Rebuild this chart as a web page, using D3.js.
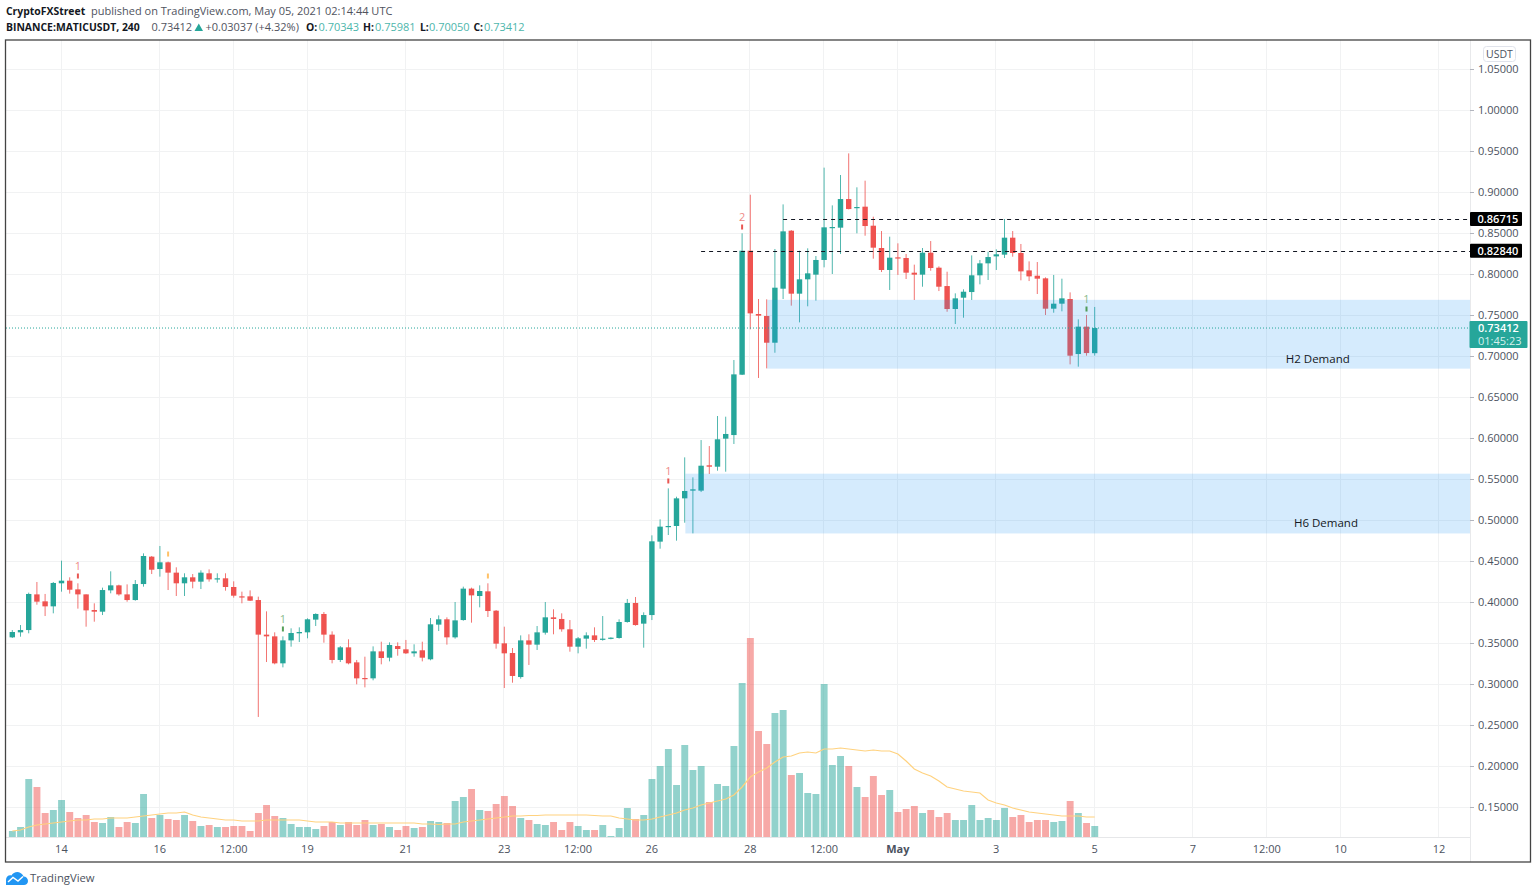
<!DOCTYPE html>
<html><head><meta charset="utf-8">
<script src="https://cdn.jsdelivr.net/npm/d3@7/dist/d3.min.js"></script>
<style>
html,body{margin:0;padding:0;background:#fff;overflow:hidden}
svg{display:block}
text{font-family:"Open Sans","Noto Sans",sans-serif}
</style></head><body>
<svg id="c" width="1536" height="895"></svg>
<script>
const opens=[.3569,.3630,.3658,.4093,.4008,.3947,.4228,.4260,.4154,.4093,.3902,.3882,.4142,.4203,.4093,.4024,.4219,.4553,.4402,.4484,.4358,.4228,.4301,.4248,.4350,.4280,.4289,.4183,.4069,.4069,.4024,.3602,.3581,.3252,.3532,.3618,.3630,.3785,.3854,.3602,.3293,.3447,.3264,.3073,.3069,.3398,.3321,.3463,.3423,.3374,.3411,.3301,.3724,.3789,.3569,.3780,.4163,.4073,.4130,.3894,.3496,.3378,.3085,.3532,.3480,.3626,.3813,.3793,.3667,.3455,.3553,.3593,.3541,.3553,.3561,.3756,.3988,.3736,.3841,.4736,.4919,.4927,.5264,.5358,.5358,.5667,.5650,.5992,.6036,.6772,.8284,.7512,.7488,.7162,.7821,.8528,.7760,.7935,.7992,.8171,.8565,.8565,.8914,.8809,.8821,.8589,.8317,.8049,.8203,.8195,.8016,.7992,.8260,.8077,.7853,.7573,.7711,.7780,.7984,.8130,.8215,.8236,.8443,.8256,.8044,.7979,.7947,.7577,.7638,.7695,.7024,.7358,.70343];
const highs=[.3658,.3719,.4114,.4244,.4098,.4244,.4504,.4301,.4228,.4093,.3984,.4175,.4374,.4211,.4215,.4268,.4593,.4561,.4683,.4492,.4423,.4350,.4341,.4386,.4398,.4350,.4350,.4252,.4126,.4142,.4065,.3886,.3630,.3581,.3679,.3691,.3801,.3862,.3878,.3642,.3463,.3545,.3293,.3333,.3459,.3516,.3508,.3508,.3537,.3484,.3516,.3805,.3837,.3813,.4000,.4187,.4175,.4203,.4228,.3902,.3699,.3439,.3593,.3606,.3707,.4000,.3911,.3862,.3780,.3573,.3630,.3691,.3829,.3569,.3789,.4037,.4061,.3874,.4813,.5008,.5386,.5284,.5764,.5520,.5975,.5902,.6268,.6260,.6951,.8496,.8967,.7695,.7691,.8305,.8849,.8536,.8284,.8313,.8219,.9297,.8837,.9207,.9471,.9057,.9138,.8699,.8524,.8455,.8374,.8244,.8114,.8317,.8402,.8093,.8028,.7764,.7813,.8227,.8171,.8272,.8301,.8671,.8524,.8366,.8154,.8146,.7959,.7988,.7943,.7776,.7447,.7500,.75981];
const lows=[.3561,.3577,.3618,.3967,.3829,.3862,.4126,.4102,.3919,.3699,.3760,.3841,.4106,.4077,.4004,.4016,.4187,.4341,.4309,.4146,.4073,.4073,.4167,.4158,.4248,.4236,.4138,.4053,.3984,.4012,.2598,.3268,.3240,.3203,.3455,.3512,.3557,.3707,.3504,.3252,.3268,.3240,.2996,.2959,.3045,.3240,.3276,.3345,.3366,.3333,.3276,.3289,.3646,.3480,.3553,.3772,.3748,.3935,.3817,.3431,.2951,.3016,.3065,.3232,.3415,.3602,.3606,.3638,.3394,.3374,.3431,.3512,.3529,.3545,.3553,.3748,.3711,.3443,.3780,.4650,.4817,.4748,.4967,.4837,.5341,.5561,.5601,.5589,.5927,.6768,.7325,.6732,.6849,.7040,.7695,.7614,.7410,.7606,.7675,.8081,.8000,.8244,.8788,.8496,.8467,.8187,.8024,.7805,.7988,.7939,.7683,.7845,.8040,.7792,.7540,.7390,.7467,.7683,.7874,.7927,.8049,.8195,.8211,.7923,.7914,.7756,.7500,.7528,.7545,.6898,.6870,.7004,.70050];
const closes=[.3634,.3658,.4098,.4004,.3947,.4232,.4260,.4150,.4093,.3898,.3882,.4146,.4203,.4093,.4024,.4219,.4561,.4394,.4484,.4358,.4228,.4301,.4248,.4358,.4276,.4289,.4183,.4077,.4061,.4016,.3602,.3581,.3252,.3532,.3622,.3634,.3789,.3854,.3602,.3293,.3447,.3252,.3069,.3065,.3398,.3317,.3476,.3427,.3374,.3398,.3321,.3728,.3789,.3569,.3776,.4163,.4081,.4134,.3890,.3492,.3374,.3098,.3532,.3480,.3630,.3813,.3793,.3667,.3455,.3557,.3593,.3537,.3553,.3565,.3756,.3988,.3719,.3841,.4740,.4919,.4927,.5264,.5354,.5374,.5662,.5650,.5984,.6049,.6776,.8284,.7520,.7492,.7162,.7833,.8520,.7760,.7935,.8008,.8171,.8569,.8573,.8914,.8792,.8817,.8585,.8321,.8049,.8199,.8195,.8016,.7992,.8260,.8073,.7845,.7573,.7703,.7784,.7984,.8130,.8207,.8240,.8443,.8256,.8032,.7971,.7943,.7577,.7638,.7703,.7004,.7358,.7036,.73412];
const volumes=[6,10,58,50,24,27,37,25,19,22,15,14,20,10,15,14,43,19,22,18,17,22,16,11,12,10,10,11,11,6,24,32,21,19,13,10,10,8,11,15,12,15,12,17,12,13,10,7,11,9,10,16,15,14,36,40,48,27,26,33,41,31,19,17,13,12,15,7,15,11,7,7,12,1,9,29,18,22,58,71,88,52,92,67,71,35,53,51,91,154,199,106,93,124,127,62,64,44,43,153,72,81,71,50,40,61,42,47,25,28,31,24,27,20,24,17,17,32,17,19,17,29,20,22,15,17,17,15,16,36,24,14,11];
const volumeMA=[6,7,10,12,13,14,15,16,17,17,18,18,19,19,19,20,21,22,23,24,24,25,22,20,19,18,17,17,16,16,16,17,17,17,17,17,16,15,15,15,14,14,14,14,14,14,14,14,14,14,13,13,12.5,13,13,15,16,17,18,19,20,21,21,21.5,21.5,22,22,22,22,22,22,21.5,21,21,19,18,17,17,18,20,22,24,27,29,32,34,36,38,42,50,60,65,69,75,80,81,84,85,84,88,88,89,88,87,86,87,86,86,83,76,68,64,61,56,50,48,46,45,44,37,34,32,29,27,25,24,23,22,21,21,21,20,20];
const priceTicks=[1.05,1,.95,.9,.85,.8,.75,.7,.65,.6,.55,.5,.45,.4,.35,.3,.25,.2,.15];
const timeTickIdx=[6,18,27,36,48,60,69,78,90,99,108,120,132,144,153,162,174];
const timeTickLab=["14","16","12:00","19","21","23","12:00","26","28","12:00","May","3","5","7","12:00","10","12"];
const signalIdx=[8,19,33,58,80,89,131];
const signalPrice=[.4317,.4585,.3671,.4317,.5476,.8573,.7573];
const signalText=["1","","1","","1","2","1"];
const signalColor=["#e53935","#ffa726","#388e3c","#ffa726","#e53935","#e53935","#388e3c"];
const levels=[.86715,.82840];
const levelFromIdx=[94,84];
const zones=[{top:.7685,bottom:.6846,fromIdx:92,label:"H2 Demand",labelIdx:159.2},{top:.5565,bottom:.4836,fromIdx:82,label:"H6 Demand",labelIdx:160.2}];
const lastPrice=.73412;

const up="#26a69a",dn="#ef5350";
const L=6,R=1470,T=40,B=838;
const svg=d3.select("#c");
const y=d3.scaleLinear().domain([.15,1.05]).range([807,69]);
const x=d3.scaleLinear().domain([0,132]).range([12.3,1094.7]);
const yv=d3.scaleLinear().domain([0,199]).range([837,638]);
const idx=d3.range(opens.length);

// grid
const g=svg.append("g").attr("stroke","#f1f2f3").attr("stroke-width",1);
g.selectAll(".h").data(priceTicks).join("line").attr("x1",L).attr("x2",R).attr("y1",d=>Math.round(y(d))+.5).attr("y2",d=>Math.round(y(d))+.5);
g.selectAll(".v").data(timeTickIdx).join("line").attr("x1",d=>Math.round(x(d))-.5).attr("x2",d=>Math.round(x(d))-.5).attr("y1",T).attr("y2",B);
svg.append("line").attr("x1",L).attr("x2",R).attr("y1",B-.5).attr("y2",B-.5).attr("stroke","#e6e7e9");
svg.append("line").attr("x1",R+.5).attr("x2",R+.5).attr("y1",T).attr("y2",862).attr("stroke","#e8e9eb");

// volume
svg.append("g").selectAll("rect").data(idx).join("rect")
 .attr("x",i=>x(i)-3.4).attr("width",6.9)
 .attr("y",i=>yv(volumes[i])).attr("height",i=>yv(0)-yv(volumes[i]))
 .attr("fill",i=>closes[i]>=opens[i]?up:dn).attr("opacity",.5);
svg.append("path").datum(idx)
 .attr("d",d3.line().x(i=>x(i)).y(i=>yv(volumeMA[i])))
 .attr("fill","none").attr("stroke","#ffd27f").attr("stroke-width",1.2);

// candles
const c=svg.append("g");
c.selectAll(".w").data(idx).join("line")
 .attr("x1",i=>x(i)).attr("x2",i=>x(i)).attr("y1",i=>y(highs[i])).attr("y2",i=>y(lows[i]))
 .attr("stroke",i=>closes[i]>=opens[i]?up:dn).attr("stroke-width",1).attr("opacity",.8);
c.selectAll(".b").data(idx).join("rect")
 .attr("x",i=>x(i)-2.7).attr("width",5.4)
 .attr("y",i=>y(Math.max(opens[i],closes[i])))
 .attr("height",i=>Math.max(1.2,Math.abs(y(opens[i])-y(closes[i]))))
 .attr("fill",i=>closes[i]>=opens[i]?up:dn);

// demand zones
svg.append("g").selectAll("rect").data(zones).join("rect")
 .attr("x",d=>x(d.fromIdx)+.7).attr("width",d=>R-x(d.fromIdx)-.7)
 .attr("y",d=>y(d.top)).attr("height",d=>y(d.bottom)-y(d.top))
 .attr("fill","#2196f3").attr("fill-opacity",.19);
svg.append("g").selectAll("text").data(zones).join("text")
 .attr("x",d=>x(d.labelIdx)).attr("y",d=>y(d.bottom)-6).attr("text-anchor","middle")
 .attr("font-size",11.5).attr("fill","#131722").text(d=>d.label);

// level lines and last price
svg.append("g").selectAll("line").data(levels).join("line")
 .attr("x1",(d,i)=>x(levelFromIdx[i])).attr("x2",R).attr("y1",d=>Math.round(y(d))+.5).attr("y2",d=>Math.round(y(d))+.5)
 .attr("stroke","#131722").attr("stroke-width",1).attr("stroke-dasharray","4 4");
svg.append("line").attr("x1",L).attr("x2",R).attr("y1",y(lastPrice)).attr("y2",y(lastPrice))
 .attr("stroke",up).attr("stroke-width",1).attr("stroke-dasharray","1 2");

// signals
const sg=svg.append("g");
sg.selectAll("rect").data(signalIdx).join("rect")
 .attr("x",d=>x(d)-1).attr("width",2).attr("y",(d,i)=>y(signalPrice[i])-2.5).attr("height",5)
 .attr("fill",(d,i)=>signalColor[i]).attr("opacity",(d,i)=>signalText[i]?.85:.7);
sg.selectAll("text").data(signalIdx).join("text")
 .attr("x",d=>x(d)).attr("y",(d,i)=>y(signalPrice[i])-6).attr("text-anchor","middle")
 .attr("font-size",11).attr("fill",(d,i)=>signalColor[i]).attr("opacity",.6)
 .text((d,i)=>signalText[i]);

// price axis
const ya=d3.axisRight(y).tickValues(priceTicks).tickFormat(d3.format(".5f")).tickSize(4).tickPadding(4);
const yg=svg.append("g").attr("transform",`translate(${R},0)`).call(ya);
yg.select(".domain").remove();
yg.selectAll("line").attr("stroke","#b2b5be");
yg.selectAll("text").attr("font-size",11).attr("fill","#4c525e").attr("font-family",'"Open Sans"');

// time axis
const xa=d3.axisBottom(x).tickValues(timeTickIdx).tickFormat((d,i)=>timeTickLab[i]).tickSize(0).tickPadding(7);
const xg=svg.append("g").attr("transform",`translate(-0.6,${B})`).call(xa);
xg.select(".domain").remove();
xg.selectAll("text").attr("font-size",11).attr("fill","#4c525e").attr("font-family",'"Open Sans"')
 .attr("font-weight",(d,i)=>timeTickLab[i]==="May"?700:400);

// price tags
const tag=(p,fill,w,txt)=>{
 const yy=y(p);
 svg.append("rect").attr("x",R).attr("y",yy-7).attr("width",w).attr("height",14).attr("rx",1).attr("fill",fill);
 svg.append("text").attr("x",R+7.5).attr("y",yy+4).attr("font-size",11).attr("font-weight",600).attr("fill","#fff").text(txt);
};
levels.forEach(p=>tag(p,"#000",52,d3.format(".5f")(p)));
const ly=y(lastPrice);
svg.append("rect").attr("x",R-.5).attr("y",ly-7).attr("width",58).attr("height",27).attr("rx",1).attr("fill",up);
svg.append("text").attr("x",R+8).attr("y",ly+4).attr("font-size",11).attr("font-weight",600).attr("fill","#fff").text(d3.format(".5f")(lastPrice));
svg.append("text").attr("x",R+8).attr("y",ly+17).attr("font-size",11).attr("fill","#d5f0ec").text("01:45:23");

// USDT badge
svg.append("rect").attr("x",1483.5).attr("y",46.5).attr("width",32).attr("height",15).attr("rx",3).attr("fill","#fff").attr("stroke","#e0e3eb");
svg.append("text").attr("x",1499.5).attr("y",57.5).attr("text-anchor","middle").attr("font-size",10.5).attr("fill","#4c525e").text("USDT");

// frame
svg.append("rect").attr("x",5.5).attr("y",40).attr("width",1525).attr("height",822).attr("fill","none").attr("stroke","#444").attr("stroke-width",1.3);

// header
const hd=(xp,yp,t,fill,w,fs)=>svg.append("text").attr("x",xp).attr("y",yp).attr("font-size",fs||11).attr("fill",fill).attr("font-weight",w||400).text(t);
hd(6,15,"CryptoFXStreet","#131722",700,10.4);
hd(91,15,"published on TradingView.com, May 05, 2021 02:14:44 UTC","#50535e");
hd(6,31,"BINANCE:MATICUSDT, 240","#131722",700,10.4);
hd(151.5,31,"0.73412","#50535e");
svg.append("path").attr("d","M194.5 31L198.8 23.5L203 31Z").attr("fill",up);
hd(205.5,31,"+0.03037 (+4.32%)","#50535e");
[["O:",306,"0.70343",318.5],["H:",363,"0.75981",375],["L:",420,"0.70050",429],["C:",473.5,"0.73412",484]].forEach(a=>{
 hd(a[1],31,a[0],"#131722",700,10.4); hd(a[3],31,a[2],"#4db6ac");
});

// TradingView logo
svg.append("path").attr("d","M6 885V880C6 876.5 9 874.5 11.5 875.5C13 872.5 17.5 871 20.5 873C22 874 23 875 23.5 876.5C26 876.5 28 878.5 28 881C28 883.5 26 885 24 885Z").attr("fill","#2196f3");
svg.append("path").attr("d","M8 882L13 877.5L18 881L23 876.5").attr("fill","none").attr("stroke","#fff").attr("stroke-width",1.4);
svg.append("text").attr("x",30).attr("y",882).attr("font-size",11.3).attr("fill","#4c525e").text("TradingView");
</script></body></html>
